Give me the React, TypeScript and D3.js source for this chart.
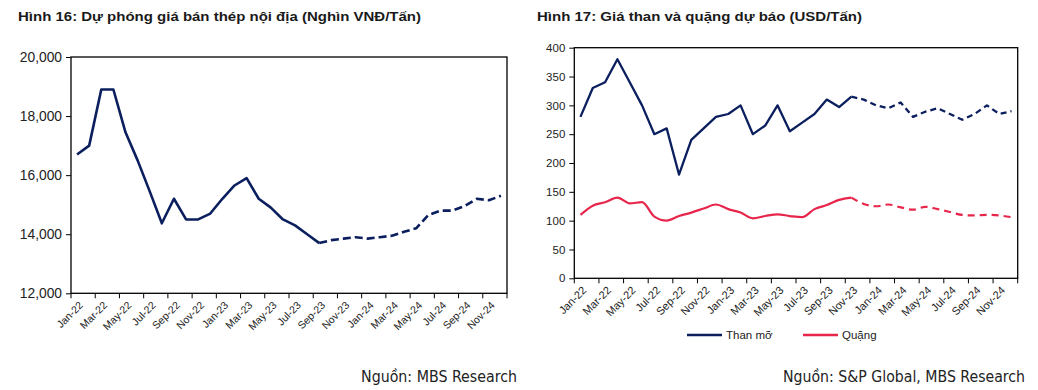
import React, { useRef, useEffect } from "react"
import * as d3 from "d3"

const months = [
  "Jan-22", "Feb-22", "Mar-22", "Apr-22", "May-22", "Jun-22", "Jul-22", "Aug-22", "Sep-22", "Oct-22", "Nov-22", "Dec-22",
  "Jan-23", "Feb-23", "Mar-23", "Apr-23", "May-23", "Jun-23", "Jul-23", "Aug-23", "Sep-23", "Oct-23", "Nov-23", "Dec-23",
  "Jan-24", "Feb-24", "Mar-24", "Apr-24", "May-24", "Jun-24", "Jul-24", "Aug-24", "Sep-24", "Oct-24", "Nov-24", "Dec-24",
]

// Hình 16: steel price, Jan-22 .. Sep-23 actual, Sep-23 .. Dec-24 forecast
const steelActual = [
  16700, 17000, 18900, 18900, 17450, 16500, 15450, 14370, 15200, 14500, 14500, 14700,
  15200, 15650, 15900, 15200, 14900, 14500, 14300, 14000, 13700,
]
const steelForecastStart = "Sep-23"
const steelForecast = [
  13700, 13800, 13850, 13900, 13850, 13900, 13950, 14080, 14200, 14650, 14800, 14800, 14950, 15200, 15150, 15300,
]
const steelTicks = [12000, 14000, 16000, 18000, 20000]

// Hình 17: coal & ore, Jan-22 .. Nov-23 actual, Nov-23 .. Dec-24 forecast
const coalActual = [
  280, 330, 340, 380, 340, 300, 250, 260, 180, 240, 260, 280,
  285, 300, 250, 265, 300, 255, 270, 285, 310, 297, 315,
]
const oreActual = [
  110, 126, 132, 140, 130, 132, 107, 100, 108, 114, 121, 128,
  120, 114, 104, 108, 111, 108, 106, 120, 127, 136, 140,
]
const rawForecastStart = "Nov-23"
const coalForecast = [315, 310, 300, 295, 305, 280, 289, 295, 285, 275, 285, 300, 285, 290]
const oreForecast = [140, 129, 125, 128, 123, 119, 124, 120, 115, 110, 109, 110, 109, 106]
const rawTicks = [0, 50, 100, 150, 200, 250, 300, 350, 400]

const NAVY = "#0b1f5e"
const RED = "#e8264c"
const FONT = "'Liberation Sans', Arial, sans-serif"
const NARROW = "'Liberation Sans Narrow', 'DejaVu Sans Condensed', 'Liberation Sans', sans-serif"

type Series = { values: number[]; start: string; color: string; dash?: string; width: number; smooth?: boolean }

type Panel = {
  left: number
  right: number
  top: number
  bottom: number
  domain: [number, number]
  ticks: number[]
  format: (d: number) => string
  yFont: number
  xFont: number
  series: Series[]
}

function drawPanel(svg: d3.Selection<SVGSVGElement, unknown, null, undefined>, p: Panel) {
  const x = d3.scaleBand<string>().domain(months).range([p.left, p.right]).padding(0)
  const y = d3.scaleLinear().domain(p.domain).range([p.bottom, p.top])
  const bw = x.bandwidth()
  const cx = (m: string) => x(m)! + bw / 2

  const g = svg.append("g")

  // y axis
  const ya = g
    .append("g")
    .attr("transform", `translate(${p.left},0)`)
    .call(d3.axisLeft(y).tickValues(p.ticks).tickSize(5).tickPadding(4).tickFormat((d) => p.format(d as number)))
  ya.select(".domain").remove()
  ya.attr("font-family", FONT).attr("font-size", p.yFont)
  ya.selectAll("line").attr("stroke", "#000")
  ya.selectAll("text").attr("fill", "#222")

  // x ticks at category boundaries, every 2 months
  const bounds = d3.range(0, months.length + 1, 2)
  g.selectAll(".xtick")
    .data(bounds)
    .enter()
    .append("line")
    .attr("x1", (i) => p.left + i * bw)
    .attr("x2", (i) => p.left + i * bw)
    .attr("y1", p.bottom)
    .attr("y2", p.bottom + 5)
    .attr("stroke", "#000")

  g.selectAll(".xlabel")
    .data(months.filter((_, i) => i % 2 === 0))
    .enter()
    .append("text")
    .attr("transform", (m) => `translate(${cx(m) + 4},${p.bottom + 10}) rotate(-45)`)
    .attr("text-anchor", "end")
    .attr("dy", "0.35em")
    .attr("font-family", FONT)
    .attr("font-size", p.xFont)
    .attr("fill", "#222")
    .text((m) => m)

  // lines
  p.series.forEach((s) => {
    const i0 = months.indexOf(s.start)
    const line = d3
      .line<number>()
      .x((_, i) => cx(months[i0 + i]))
      .y((d) => y(d))
      .curve(s.smooth ? d3.curveMonotoneX : d3.curveLinear)
    g.append("path")
      .datum(s.values)
      .attr("d", line)
      .attr("fill", "none")
      .attr("stroke", s.color)
      .attr("stroke-width", s.width)
      .attr("stroke-linejoin", "round")
      .attr("stroke-dasharray", s.dash || null)
  })

  // frame
  g.append("rect")
    .attr("x", p.left)
    .attr("y", p.top)
    .attr("width", p.right - p.left)
    .attr("height", p.bottom - p.top)
    .attr("fill", "none")
    .attr("stroke", "#000")
    .attr("stroke-width", 1.3)
}

const App: React.FC = () => {
  const svgRef = useRef<SVGSVGElement>(null)

  useEffect(() => {
    if (!svgRef.current) return
    const svg = d3.select(svgRef.current)
    svg.selectAll("*").remove()

    // titles
    svg.append("text")
      .attr("x", 18).attr("y", 21)
      .attr("font-family", FONT).attr("font-size", 13.5).attr("font-weight", "bold").attr("fill", "#1a1a1a")
      .attr("textLength", 403).attr("lengthAdjust", "spacingAndGlyphs")
      .text("Hình 16: Dự phóng giá bán thép nội địa (Nghìn VNĐ/Tấn)")
    svg.append("text")
      .attr("x", 537).attr("y", 21)
      .attr("font-family", FONT).attr("font-size", 13.5).attr("font-weight", "bold").attr("fill", "#1a1a1a")
      .attr("textLength", 325).attr("lengthAdjust", "spacingAndGlyphs")
      .text("Hình 17: Giá than và quặng dự báo (USD/Tấn)")

    drawPanel(svg, {
      left: 71, right: 507, top: 57, bottom: 293.3,
      domain: [12000, 20000], ticks: steelTicks, format: d3.format(","),
      yFont: 13.8, xFont: 10.5,
      series: [
        { values: steelActual, start: months[0], color: NAVY, width: 2.6 },
        { values: steelForecast, start: steelForecastStart, color: NAVY, width: 2.6, dash: "8,4" },
      ],
    })

    drawPanel(svg, {
      left: 574.3, right: 1017.7, top: 47.7, bottom: 278.3,
      domain: [0, 400], ticks: rawTicks, format: d3.format("d"),
      yFont: 11.5, xFont: 11,
      series: [
        { values: oreActual, start: months[0], color: RED, width: 2.2, smooth: true },
        { values: oreForecast, start: rawForecastStart, color: RED, width: 2.2, dash: "7,5", smooth: true },
        { values: coalActual, start: months[0], color: NAVY, width: 2.3 },
        { values: coalForecast, start: rawForecastStart, color: NAVY, width: 2.3, dash: "6,4" },
      ],
    })

    // legend
    const legend = [
      { name: "Than mỡ", color: NAVY, x: 687 },
      { name: "Quặng", color: RED, x: 803 },
    ]
    const lg = svg.append("g")
    legend.forEach((l) => {
      lg.append("line")
        .attr("x1", l.x).attr("x2", l.x + 35).attr("y1", 335).attr("y2", 335)
        .attr("stroke", l.color).attr("stroke-width", 2.3)
      lg.append("text")
        .attr("x", l.x + 39).attr("y", 339)
        .attr("font-family", FONT).attr("font-size", 11.5).attr("fill", "#222")
        .text(l.name)
    })

    // sources
    svg.append("text")
      .attr("x", 517).attr("y", 382).attr("text-anchor", "end")
      .attr("font-family", NARROW).attr("font-size", 15).attr("fill", "#222")
      .attr("textLength", 156).attr("lengthAdjust", "spacingAndGlyphs")
      .text("Nguồn: MBS Research")
    svg.append("text")
      .attr("x", 1025).attr("y", 382).attr("text-anchor", "end")
      .attr("font-family", NARROW).attr("font-size", 15).attr("fill", "#222")
      .attr("textLength", 242).attr("lengthAdjust", "spacingAndGlyphs")
      .text("Nguồn: S&P Global, MBS Research")
  }, [])

  return (
    <div style={{ position: "absolute", left: 0, top: 0, width: 1038, height: 390, background: "#fff" }}>
      <svg ref={svgRef} width={1038} height={390} style={{ display: "block" }} />
    </div>
  )
}

export default App
